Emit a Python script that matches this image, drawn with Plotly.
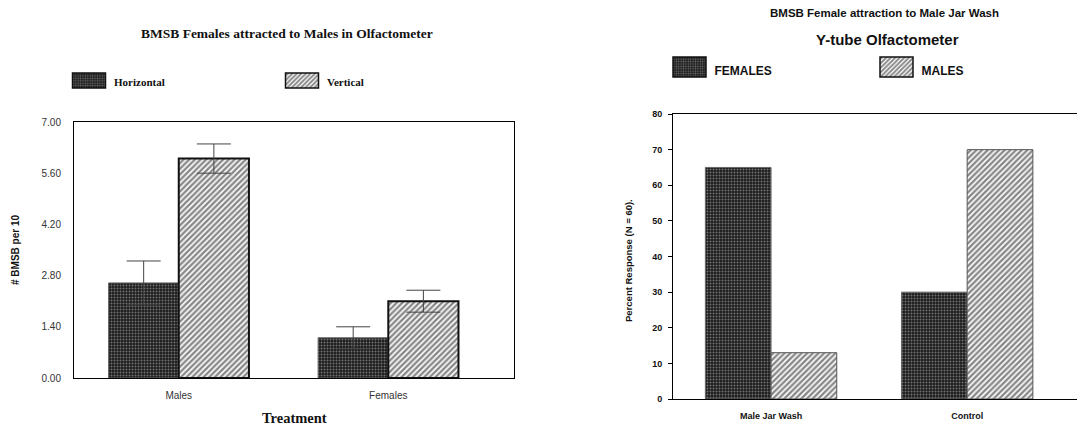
import plotly.graph_objects as go

# --- Olfactometer: mean number of BMSB per 10 (with standard error) ---
treatments = ["Males", "Females"]
horizontal_mean = [2.6, 1.1]
horizontal_err = [0.6, 0.3]
vertical_mean = [6.0, 2.1]
vertical_err = [0.4, 0.3]
left_ticks = [0.0, 1.4, 2.8, 4.2, 5.6, 7.0]

# --- Y-tube olfactometer: percent response (N = 60) ---
odour_sources = ["Male Jar Wash", "Control"]
pct_females = [65, 30]
pct_males = [13, 70]
right_ticks = [0, 10, 20, 30, 40, 50, 60, 70, 80]

W, H = 1077, 430


def px_x(v):
    return v / W


def px_y(v):
    return 1 - v / H


SERIF = "Liberation Serif, Times New Roman, serif"
SANS = "Liberation Sans, Arial, sans-serif"

dots = dict(shape=".", size=3, solidity=0.35, fgcolor="#c8c8c8", bgcolor="#1c1c1c")
hatch = dict(shape="/", size=4, solidity=0.6, fgcolor="#111111", bgcolor="white")

fig = go.Figure()

# left panel
fig.add_trace(go.Bar(
    x=treatments, y=horizontal_mean, name="Horizontal", legend="legend",
    marker=dict(color="#1c1c1c", pattern=dots, line=dict(color="#666666", width=1)),
    error_y=dict(type="data", array=horizontal_err, color="#444444", thickness=1, width=17),
    xaxis="x", yaxis="y",
))
fig.add_trace(go.Bar(
    x=treatments, y=vertical_mean, name="Vertical", legend="legend2",
    marker=dict(color="white", pattern=hatch, line=dict(color="#111111", width=2)),
    error_y=dict(type="data", array=vertical_err, color="#444444", thickness=1, width=17),
    xaxis="x", yaxis="y",
))

# right panel
fig.add_trace(go.Bar(
    x=odour_sources, y=pct_females, name="FEMALES", legend="legend3",
    marker=dict(color="#1c1c1c", pattern=dots, line=dict(color="#666666", width=1)),
    xaxis="x2", yaxis="y2",
))
fig.add_trace(go.Bar(
    x=odour_sources, y=pct_males, name="MALES", legend="legend4",
    marker=dict(color="white", pattern=hatch, line=dict(color="#555555", width=1)),
    xaxis="x2", yaxis="y2",
))

axis_common = dict(showgrid=False, zeroline=False, showline=True, linecolor="black",
                   linewidth=1, automargin=False)

fig.update_layout(
    width=W, height=H,
    margin=dict(l=0, r=0, t=0, b=0, autoexpand=False),
    paper_bgcolor="white", plot_bgcolor="white",
    barmode="group", bargap=0.33, bargroupgap=0,
    showlegend=True,
    xaxis=dict(domain=[px_x(74), px_x(514)], range=[-0.5, 1.6], anchor="y", mirror=True,
               ticks="", ticklabelstandoff=8,
               tickfont=dict(family=SANS, size=10, color="#333333"), **axis_common),
    yaxis=dict(domain=[px_y(378), px_y(122)], range=[0, 7], anchor="x", mirror=True,
               tickvals=left_ticks, ticktext=[f"{t:.2f}" for t in left_ticks],
               ticks="", ticklabelstandoff=10,
               tickfont=dict(family=SANS, size=10, color="#333333"), **axis_common),
    xaxis2=dict(domain=[px_x(673), 1.0], range=[-0.5, 1.56], anchor="y2", mirror=True,
                ticks="", ticklabelstandoff=8,
                tickfont=dict(family=SANS, size=9, color="#111111", weight="bold"), **axis_common),
    yaxis2=dict(domain=[px_y(399), px_y(114)], range=[0, 80], anchor="x2", mirror=False,
                tickvals=right_ticks, ticks="outside", ticklen=4, tickcolor="black",
                ticklabelstandoff=4,
                tickfont=dict(family=SANS, size=9, color="#111111", weight="bold"), **axis_common),
)

legend_base = dict(orientation="h", xanchor="left", yanchor="middle", bgcolor="rgba(0,0,0,0)",
                   borderwidth=0, itemwidth=40, itemclick=False, itemdoubleclick=False)
fig.update_layout(
    legend=dict(x=px_x(64), y=px_y(82),
                font=dict(family=SERIF, size=11, color="#111111", weight="bold"), **legend_base),
    legend2=dict(x=px_x(277), y=px_y(82),
                 font=dict(family=SERIF, size=11, color="#111111", weight="bold"), **legend_base),
    legend3=dict(x=px_x(664.5), y=px_y(70),
                 font=dict(family=SANS, size=12, color="#111111", weight="bold"), **legend_base),
    legend4=dict(x=px_x(871.5), y=px_y(70),
                 font=dict(family=SANS, size=12, color="#111111", weight="bold"), **legend_base),
)

annotations = [
    dict(text="BMSB Females attracted to Males in Olfactometer", x=px_x(287), y=px_y(33),
         font=dict(family=SERIF, size=13.5, color="#111111", weight="bold")),
    dict(text="Treatment", x=px_x(294), y=px_y(418),
         font=dict(family=SERIF, size=14.5, color="#111111", weight="bold")),
    dict(text="# BMSB per 10", x=px_x(15), y=px_y(250), textangle=-90,
         font=dict(family=SANS, size=10, color="#111111", weight="bold")),
    dict(text="BMSB Female attraction to Male Jar Wash", x=px_x(884), y=px_y(13),
         font=dict(family=SANS, size=11.5, color="#111111", weight="bold")),
    dict(text="Y-tube Olfactometer", x=px_x(887), y=px_y(40),
         font=dict(family=SANS, size=15, color="#111111", weight="bold")),
    dict(text="Percent Response (N = 60).", x=px_x(628), y=px_y(261), textangle=-90,
         font=dict(family=SANS, size=9.5, color="#111111", weight="bold")),
]
for a in annotations:
    a.update(xref="paper", yref="paper", showarrow=False, xanchor="center", yanchor="middle")
fig.update_layout(annotations=annotations)

# widen the legend swatches into outlined rectangles:
# [half width, top, bottom] relative to the legend text line
post = """
var gd = document.getElementById('{plot_id}');
var byName = {'Horizontal': [16.5, -9, 6], 'Vertical': [16.5, -9, 6],
              'FEMALES': [16.5, -13, 7], 'MALES': [16.5, -13, 7]};
var byLegend = {'legend': byName['Horizontal'], 'legend2': byName['Vertical'],
                'legend3': byName['FEMALES'], 'legend4': byName['MALES']};
function legendIdOf(el) {
  while (el && el !== gd) {
    if (el.classList) {
      for (var i = 0; i < el.classList.length; i++) {
        var c = el.classList[i];
        if (/^legend[0-9]*$/.test(c)) { return c; }
      }
    }
    el = el.parentNode;
  }
  return null;
}
function boxFor(p) {
  var item = p.closest('g.traces');
  if (item) {
    var label = item.querySelector('text.legendtext');
    if (label && byName[label.textContent.trim()]) { return byName[label.textContent.trim()]; }
  }
  return byLegend[legendIdOf(p)] || null;
}
function widenSwatches() {
  gd.querySelectorAll('g.legendpoints path').forEach(function (p) {
    var b = boxFor(p);
    if (!b) { return; }
    var d = 'M' + b[0] + ',' + b[2] + 'H-' + b[0] + 'V' + b[1] + 'H' + b[0] + 'Z';
    if (p.getAttribute('d') !== d) { p.setAttribute('d', d); }
    if (p.style.stroke !== 'rgb(17, 17, 17)') { p.style.stroke = 'rgb(17, 17, 17)'; }
    if (p.style.strokeWidth !== '1.5px') { p.style.strokeWidth = '1.5px'; }
  });
}
widenSwatches();
gd.on('plotly_afterplot', widenSwatches);
new MutationObserver(widenSwatches).observe(gd, {subtree: true, childList: true,
                                                  attributes: true, attributeFilter: ['d']});
var n = 0;
var timer = setInterval(function () { widenSwatches(); if (++n > 60) { clearInterval(timer); } }, 50);
"""

fig.write_html("out.html", post_script=post)
